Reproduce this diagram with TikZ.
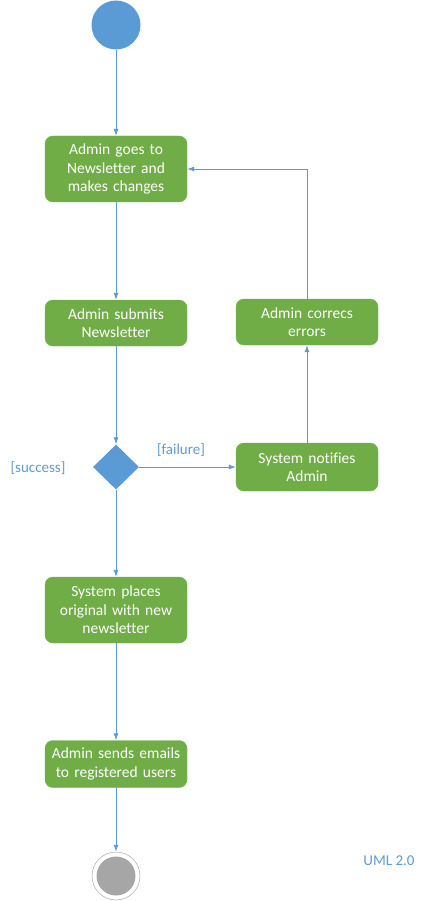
\documentclass[tikz,border=0pt]{standalone}
\usepackage{fontspec}
\setmainfont{Carlito}[Ligatures=NoCommon]
\usetikzlibrary{shapes.geometric,arrows.meta}
\definecolor{umlgreen}{HTML}{70AD47}
\definecolor{umlblue}{HTML}{5B9BD5}
\begin{document}
\begin{tikzpicture}[x=1pt,y=-1pt,
    activity/.style={draw=umlgreen,fill=umlgreen,rounded corners=8pt,minimum width=142pt,
      text width=136pt,align=center,text=white,font=\fontsize{15.5}{18.5}\selectfont,inner sep=2pt},
    flow/.style={draw=umlblue,line width=0.8pt,-{Latex[length=7pt,width=5pt]}},
    guard/.style={text=umlblue,font=\fontsize{15}{18}\selectfont}]
  \useasboundingbox (0,0) rectangle (439,901);
  \node[circle,fill=umlblue,minimum size=49pt,inner sep=0pt] (start) at (116,25) {};
  \node[activity,minimum height=66pt] (goes) at (116,169) {Admin goes to\\Newsletter and\\makes changes};
  \node[activity,minimum height=46pt] (submit) at (116,323) {Admin submits\\Newsletter};
  \node[diamond,fill=umlblue,minimum width=46pt,minimum height=45pt,inner sep=0pt] (check) at (116,467) {};
  \node[activity,minimum height=48pt] (notify) at (307,467) {System notifies\\Admin};
  \node[activity,minimum height=46pt] (correct) at (307,322) {Admin correcs\\errors};
  \node[activity,minimum height=66pt] (place) at (116,610) {System places\\original with new\\newsletter};
  \node[activity,minimum height=47pt] (send) at (116,764) {Admin sends emails\\to registered users};
  \node[circle,draw=gray!70,line width=0.5pt,minimum size=48pt,inner sep=0pt] (stop) at (116,876) {};
  \node[circle,fill=black!35,minimum size=39pt,inner sep=0pt] (stopdot) at (116,876) {};
  \node[guard] (failure) at (181,450) {[failure]};
  \node[guard] (success) at (38,468) {[success]};
  \node[guard] (uml) at (389,861) {UML 2.0};
  \begin{scope}[flow]
    \draw (start) -- (goes);
    \draw (goes) -- (submit);
    \draw (submit) -- (check);
    \draw (check) -- (notify);
    \draw (notify) -- (correct);
    \draw (correct.north) |- (goes.east);
    \draw (check) -- (place);
    \draw (place) -- (send);
    \draw (send) -- (stop);
  \end{scope}
\end{tikzpicture}
\end{document}
